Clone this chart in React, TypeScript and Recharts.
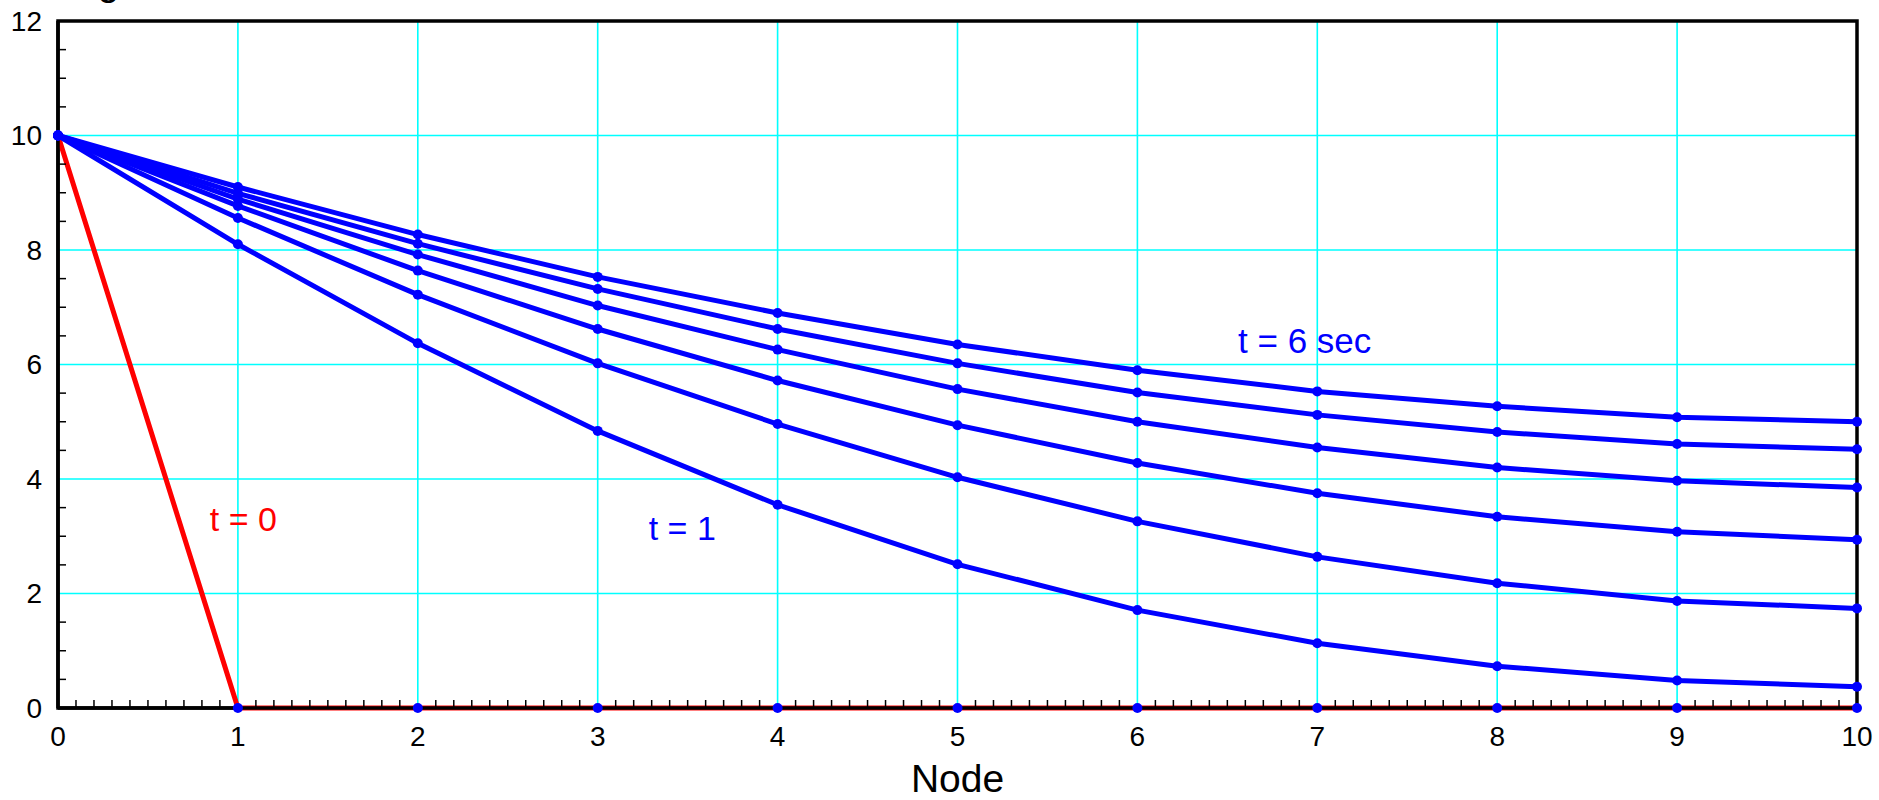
import {
  CartesianGrid,
  Line,
  LineChart,
  ReferenceArea,
  ReferenceDot,
  XAxis,
  YAxis,
} from "recharts";

const nodes = [0, 1, 2, 3, 4, 5, 6, 7, 8, 9, 10];

// t = 0 initial profile, then t = 1 ... 6 sec
const t0 = [10, 0, 0, 0, 0, 0, 0, 0, 0, 0, 0];
const t1 = [10, 8.1, 6.37, 4.84, 3.55, 2.51, 1.71, 1.13, 0.73, 0.48, 0.37];
const t2 = [10, 8.56, 7.22, 6.02, 4.96, 4.03, 3.26, 2.64, 2.18, 1.87, 1.74];
const t3 = [10, 8.77, 7.64, 6.62, 5.72, 4.94, 4.28, 3.75, 3.34, 3.08, 2.94];
const t4 = [10, 8.89, 7.92, 7.03, 6.26, 5.57, 5.0, 4.55, 4.2, 3.97, 3.85];
const t5 = [10, 8.99, 8.11, 7.32, 6.62, 6.02, 5.51, 5.12, 4.82, 4.61, 4.52];
const t6 = [10, 9.1, 8.27, 7.53, 6.9, 6.35, 5.9, 5.53, 5.27, 5.08, 5.0];

const blueKeys = ["t1", "t2", "t3", "t4", "t5", "t6"];

const xGridValues = [1, 2, 3, 4, 5, 6, 7, 8, 9];
const yGridValues = [2, 4, 6, 8, 10];
// every 0.1 on x, every 0.5 on y; labels only on the majors
const xTicks = Array.from({ length: 101 }, (_, i) => i / 10);
const yTicks = Array.from({ length: 25 }, (_, i) => i / 2);

const data = nodes.map((n, i) => ({
  node: n,
  t0: t0[i],
  t1: t1[i],
  t2: t2[i],
  t3: t3[i],
  t4: t4[i],
  t5: t5[i],
  t6: t6[i],
}));

const FONT = '"Liberation Sans", Arial, Helvetica, sans-serif';

function XTick(props: any) {
  const { x, y, payload } = props;
  const v = payload.value;
  const major = Math.abs(v - Math.round(v)) < 1e-6;
  const axisY = y - 20;
  return (
    <g>
      {!major && (
        <line x1={x} x2={x} y1={axisY} y2={axisY - 8} stroke="#000" strokeWidth={1.5} />
      )}
      {major && (
        <text x={x} y={y} dy="0.64em" textAnchor="middle" fontSize={28} fill="#000">
          {Math.round(v)}
        </text>
      )}
    </g>
  );
}

function YTick(props: any) {
  const { x, y, payload } = props;
  const v = payload.value;
  const major = Math.abs(v / 2 - Math.round(v / 2)) < 1e-6;
  const axisX = x + 16;
  return (
    <g>
      {!major && (
        <line x1={axisX} x2={axisX + 8} y1={y} y2={y} stroke="#000" strokeWidth={1.5} />
      )}
      {major && (
        <text x={x} y={y} dy="0.355em" textAnchor="end" fontSize={28} fill="#000">
          {Math.round(v)}
        </text>
      )}
    </g>
  );
}

export default function App() {
  return (
    <div
      style={{
        position: "absolute",
        left: 0,
        top: 0,
        width: 1879,
        height: 800,
        background: "#fff",
        fontFamily: FONT,
      }}
    >
      <svg
        width={300}
        height={20}
        style={{ position: "absolute", left: 0, top: 0, overflow: "visible" }}
      >
        <text x={11} y={-5} fontSize={39} fill="#000">
          Voltage
        </text>
      </svg>
      <LineChart
        width={1879}
        height={800}
        data={data}
        margin={{ top: 21, right: 22, left: 0, bottom: 0 }}
      >
        <CartesianGrid
          stroke="#00ffff"
          strokeWidth={1.6}
          horizontalValues={yGridValues}
          verticalValues={xGridValues}
        />
        <XAxis
          dataKey="node"
          type="number"
          domain={[0, 10]}
          ticks={xTicks}
          interval={0}
          height={92}
          tickSize={0}
          tickMargin={20}
          tickLine={false}
          tick={XTick}
          axisLine={{ stroke: "#000", strokeWidth: 3.5 }}
          label={{
            value: "Node",
            position: "insideBottom",
            offset: 8,
            fontSize: 39,
            fill: "#000",
          }}
        />
        <YAxis
          type="number"
          domain={[0, 12]}
          ticks={yTicks}
          interval={0}
          width={58}
          tickSize={0}
          tickMargin={16}
          tickLine={false}
          tick={YTick}
          axisLine={{ stroke: "#000", strokeWidth: 3.5 }}
        />
        <ReferenceArea
          x1={0}
          x2={10}
          y1={0}
          y2={12}
          fill="none"
          stroke="#000"
          strokeWidth={3.5}
          fillOpacity={0}
        />
        <Line
          dataKey="t0"
          stroke="#ff0000"
          strokeWidth={5}
          dot={{ r: 5, fill: "#0000ff", stroke: "none" }}
          isAnimationActive={false}
        />
        {blueKeys.map((k) => (
          <Line
            key={k}
            dataKey={k}
            stroke="#0000ff"
            strokeWidth={5}
            dot={{ r: 5, fill: "#0000ff", stroke: "none" }}
            isAnimationActive={false}
          />
        ))}
        <ReferenceDot
          x={1.03}
          y={3.31}
          r={0}
          stroke="none"
          label={{ value: "t = 0", position: "center", fill: "#ff0000", fontSize: 34 }}
        />
        <ReferenceDot
          x={3.47}
          y={3.14}
          r={0}
          stroke="none"
          label={{ value: "t = 1", position: "center", fill: "#0000ff", fontSize: 34 }}
        />
        <ReferenceDot
          x={6.93}
          y={6.42}
          r={0}
          stroke="none"
          label={{ value: "t = 6 sec", position: "center", fill: "#0000ff", fontSize: 35 }}
        />
      </LineChart>
    </div>
  );
}
